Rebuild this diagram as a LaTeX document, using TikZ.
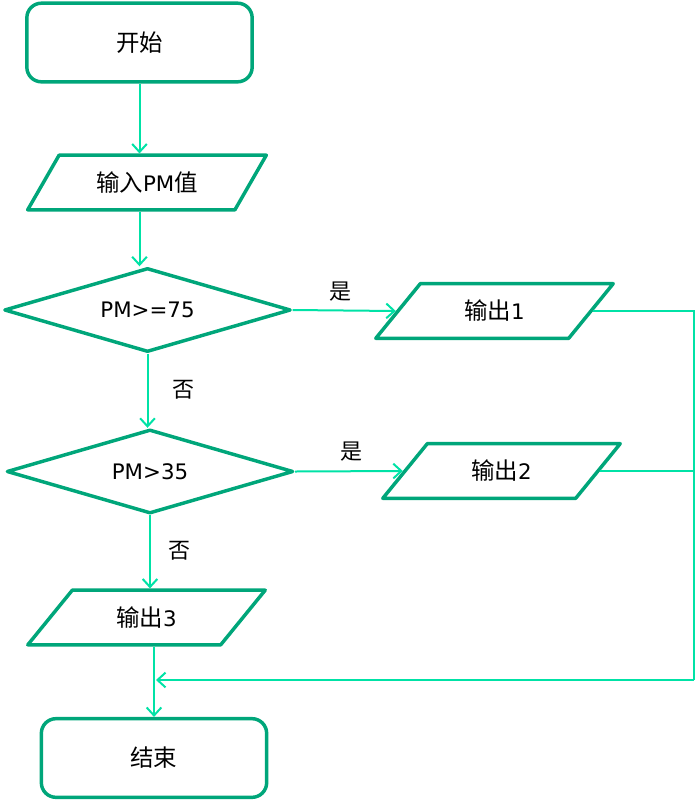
\documentclass[tikz,border=0pt]{standalone}
\usepackage{fontspec}
\setmainfont{DejaVu Sans}
\newfontfamily\cjk[Scale=1.1]{Noto Sans CJK SC}
\usetikzlibrary{shapes.geometric,arrows.meta}

\definecolor{boxgreen}{RGB}{0,166,122}
\definecolor{linegreen}{RGB}{0,226,166}

\tikzset{
  base/.style={draw=boxgreen, line width=2.6pt, line join=round, inner sep=0pt,
    font=\fontsize{16}{19}\selectfont},
  termbox/.style={base, rectangle, rounded corners=11pt, minimum width=169pt, minimum height=59pt},
  iobox/.style={base, trapezium, trapezium left angle=50, trapezium right angle=130,
    trapezium stretches=true, minimum width=179pt, minimum height=41pt},
  testbox/.style={base, diamond, shape aspect=3.5, minimum width=215pt, minimum height=63pt},
  flow/.style={draw=linegreen, line width=1.5pt, -{Straight Barb[length=6pt,width=11pt,line width=1.5pt]}},
  link/.style={draw=linegreen, line width=1.5pt},
  tag/.style={inner sep=0pt, font=\fontsize{15}{18}\selectfont\cjk}
}

\begin{document}
\begin{tikzpicture}[x=0.75pt, y=-0.75pt]
            \useasboundingbox (0,0) rectangle (696,801);

            % boxes
            \node[termbox] (start) at (139.5,42.5) {\cjk 开始};
            \node[iobox] (in) at (147,182.5) {{\cjk 输入}PM{\cjk 值}};
            \node[testbox] (d1) at (147.5,310) {PM>=75};
            \node[iobox] (out1) at (494.5,311) {{\cjk 输出}1};
            \node[testbox] (d2) at (150,471.5) {PM>35};
            \node[iobox] (out2) at (501.5,471) {{\cjk 输出}2};
            \node[iobox] (out3) at (146.5,617.5) {{\cjk 输出}3};
            \node[termbox] (end) at (154,758) {\cjk 结束};

            % labels
            \node[tag] (yes1) at (340,292) {是};
            \node[tag] (no1) at (183,390) {否};
            \node[tag] (yes2) at (351,452) {是};
            \node[tag] (no2) at (179,551) {否};

            \coordinate (rail) at (694,680);

            % connectors
            \draw[flow] (start.south) -- (start.south |- in.north);
            \draw[flow] (in.south -| start) -- (d1.north -| start);
            \draw[flow] (d1.south) -- (d1.south |- d2.north);
            \draw[flow] (d2.south) -- (d2.south |- out3.north);
            \draw[flow] (out3.south -| end) -- (end.north);
            \draw[flow] (d1.east) -- (out1.west);
            \draw[flow] (d2.east) -- (out2.west);
            \draw[link] (out1.east) -- (out1.east -| rail) -- (rail);
            \draw[link] (out2.east) -- (out2.east -| rail);
            \draw[flow] (rail) -- ([xshift=1.5pt]rail -| end);
        \end{tikzpicture}
\end{document}
